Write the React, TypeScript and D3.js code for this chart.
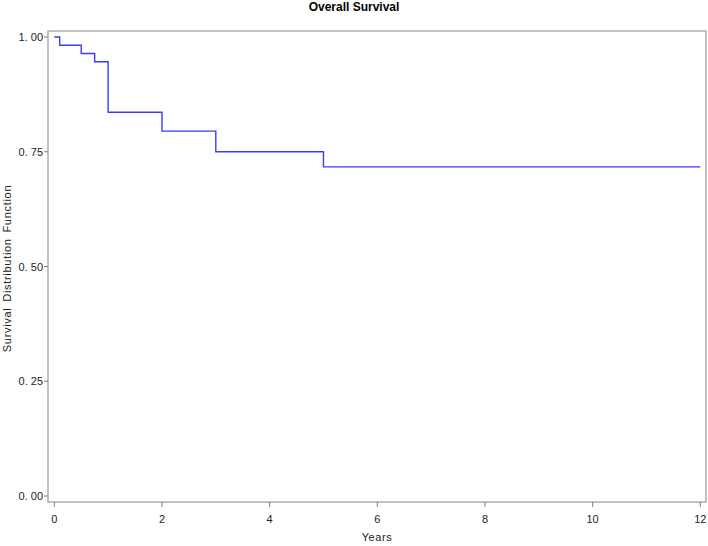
import React, { useEffect, useRef } from 'react';
import * as d3 from 'd3';

// Kaplan-Meier steps
const times = [0, 0.1, 0.5, 0.75, 1, 2, 3, 5];
const survival = [1.0, 0.982, 0.964, 0.946, 0.836, 0.795, 0.75, 0.717];
const lastTime = 12;
const xTicks = [0, 2, 4, 6, 8, 10, 12];
const yTicks = [0, 0.25, 0.5, 0.75, 1.0];

const W = 708;
const H = 546;

const App = () => {
  const svgRef = useRef<SVGSVGElement>(null);

  useEffect(() => {
    const svg = d3.select(svgRef.current);
    svg.selectAll('*').remove();

    const font = 'Arial, "Liberation Sans", sans-serif';
    const frame = { left: 48, right: 706, top: 31, bottom: 502 };

    const x = d3.scaleLinear().domain([0, 12]).range([54.3, 700.3]);
    const y = d3.scaleLinear().domain([0, 1]).range([496, 37]);

    // plot frame
    svg.append('rect')
      .attr('x', frame.left)
      .attr('y', frame.top)
      .attr('width', frame.right - frame.left)
      .attr('height', frame.bottom - frame.top)
      .attr('fill', 'none')
      .attr('stroke', '#a0a0a0')
      .attr('stroke-width', 1.3);

    // x ticks
    const xg = svg.append('g');
    xTicks.forEach(t => {
      xg.append('line')
        .attr('x1', x(t)).attr('x2', x(t))
        .attr('y1', frame.bottom).attr('y2', frame.bottom + 5)
        .attr('stroke', '#808080');
      xg.append('text')
        .attr('x', x(t))
        .attr('y', 523)
        .attr('text-anchor', 'middle')
        .style('font-family', font)
        .style('font-size', '11px')
        .attr('fill', '#222')
        .text(t);
    });

    // y ticks
    const yg = svg.append('g');
    yTicks.forEach(v => {
      yg.append('line')
        .attr('x1', frame.left - 4).attr('x2', frame.left)
        .attr('y1', y(v)).attr('y2', y(v))
        .attr('stroke', '#808080');
      yg.append('text')
        .attr('x', 43)
        .attr('y', y(v) + 4)
        .attr('text-anchor', 'end')
        .style('font-family', font)
        .style('font-size', '11px')
        .attr('fill', '#222')
        .text(d3.format('.2f')(v).replace('.', '. '));
    });

    // survival step curve
    const pts: [number, number][] = times.map((t, i) => [t, survival[i]]);
    pts.push([lastTime, survival[survival.length - 1]]);
    const line = d3.line<[number, number]>()
      .x(d => x(d[0]))
      .y(d => y(d[1]))
      .curve(d3.curveStepAfter);

    svg.append('path')
      .attr('d', line(pts))
      .attr('fill', 'none')
      .attr('stroke', '#3a3aff')
      .attr('stroke-width', 1.4);

    // title
    svg.append('text')
      .attr('x', W / 2)
      .attr('y', 11)
      .attr('text-anchor', 'middle')
      .style('font-family', font)
      .style('font-size', '12px')
      .style('font-weight', 'bold')
      .attr('fill', '#000')
      .text('Overall Survival');

    // axis labels
    svg.append('text')
      .attr('x', (frame.left + frame.right) / 2)
      .attr('y', 541)
      .attr('text-anchor', 'middle')
      .style('font-family', font)
      .style('font-size', '11px')
      .style('letter-spacing', '0.6px')
      .attr('fill', '#222')
      .text('Years');

    svg.append('text')
      .attr('transform', `translate(11, ${(frame.top + frame.bottom) / 2 + 2}) rotate(-90)`)
      .attr('text-anchor', 'middle')
      .style('font-family', font)
      .style('font-size', '11px')
      .style('letter-spacing', '0.7px')
      .style('word-spacing', '2px')
      .attr('fill', '#222')
      .text('Survival Distribution Function');
  }, []);

  return (
    <svg
      ref={svgRef}
      width={W}
      height={H}
      style={{ position: 'absolute', left: 0, top: 0, background: '#fff' }}
    />
  );
};

export default App;
